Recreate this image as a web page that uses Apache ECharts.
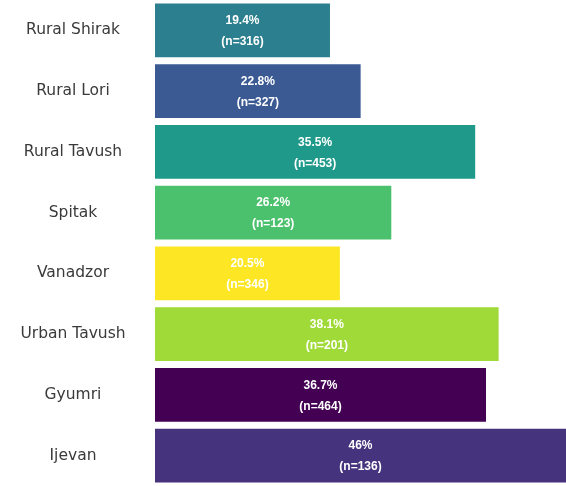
<!DOCTYPE html>
<html>
<head>
<meta charset="utf-8">
<script src="https://cdn.jsdelivr.net/npm/echarts@6/dist/echarts.min.js"></script>
<style>
  html, body { margin: 0; padding: 0; background: #fff; }
  #chart { width: 566px; height: 486px; }
</style>
</head>
<body>
<div id="chart"></div>
<script>
// Regions, listed top to bottom
const regions = ['Rural Shirak', 'Rural Lori', 'Rural Tavush', 'Spitak', 'Vanadzor', 'Urban Tavush', 'Gyumri', 'Ijevan'];
// Share in percent
const shares = [19.4, 22.8, 35.5, 26.2, 20.5, 38.1, 36.7, 46];
// Sample sizes
const sampleSizes = [316, 327, 453, 123, 346, 201, 464, 136];
// Bar colours (viridis steps)
const barColors = ['#2c7f8e', '#3b5a94', '#1f9a8a', '#4cc16d', '#fde725', '#a0da39', '#440154', '#46337e'];

const chart = echarts.init(document.getElementById('chart'), null, { renderer: 'canvas' });

const data = shares.map((v, i) => ({
  value: v,
  n: sampleSizes[i],
  itemStyle: { color: barColors[i] }
}));

chart.setOption({
  animation: false,
  grid: { left: 155, width: 411, top: 0, height: 490, containLabel: false },
  xAxis: {
    type: 'value',
    min: 0,
    max: 45.57,
    show: false
  },
  yAxis: {
    type: 'category',
    data: regions,
    inverse: true,
    axisLine: { show: false },
    axisTick: { show: false },
    axisLabel: {
      align: 'center',
      margin: 82,
      color: '#3a3a3a',
      fontSize: 15.5,
      fontFamily: 'DejaVu Sans'
    }
  },
  series: [{
    type: 'bar',
    data: data,
    barCategoryGap: '11.5%',
    clip: true,
    label: {
      show: true,
      position: 'inside',
      offset: [0, 1],
      color: '#fff',
      fontWeight: 'bold',
      fontSize: 12,
      lineHeight: 21,
      fontFamily: 'Liberation Sans',
      formatter: p => p.value + '%\n(n=' + p.data.n + ')'
    }
  }]
});
</script>
</body>
</html>
